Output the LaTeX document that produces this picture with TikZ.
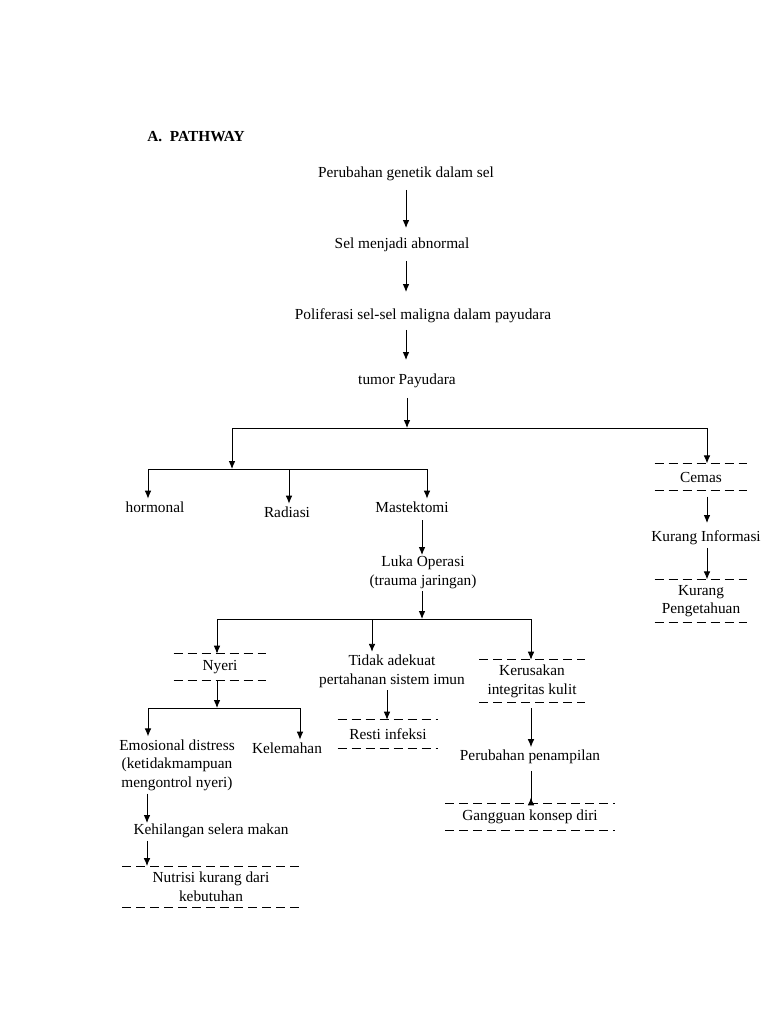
\documentclass[tikz,border=0pt]{standalone}
\usepackage{fontspec}
\setmainfont{Liberation Serif}
\usetikzlibrary{arrows.meta, positioning, calc}

\begin{document}
\begin{tikzpicture}[
    x=0.75pt, y=-0.75pt,
    every node/.style={font=\fontsize{11.5}{14}\selectfont, inner sep=2pt},
    lbl/.style={align=center},
    dbox/.style={
        align=center,
        inner sep=0pt,
        append after command={
            \pgfextra{\let\boxnode=\tikzlastnode}
            (\boxnode.north west) edge[dline] (\boxnode.north east)
            (\boxnode.south west) edge[dline] (\boxnode.south east)
        }
    },
    dline/.style={draw=black, line width=0.7pt, dash pattern=on 7pt off 3.5pt},
    myarrow/.style={
        -{Latex[length=6pt,width=5pt]},
        line width=0.7pt
    },
    bar/.style={line width=0.7pt}
]
\useasboundingbox (0,0) rectangle (768,1024);

% main chain
\node[font=\fontsize{11.5}{14}\selectfont\bfseries] (title) at (196,137) {A.\ \ PATHWAY};
\node (genetik) at (406,174) {Perubahan genetik dalam sel};
\node (abnormal) at (402,245) {Sel menjadi abnormal};
\node (poliferasi) at (423,316) {Poliferasi sel-sel maligna dalam payudara};
\node (tumor) at (407,381) {tumor Payudara};

\draw[myarrow] (genetik.south -| 406,0) ++(0,6) coordinate (a1) -- (406,228) coordinate (a1e);
\draw[myarrow] (abnormal.south -| 406,0) ++(0,6) coordinate (a2) -- (406,292) coordinate (a2e);
\draw[myarrow] (poliferasi.south -| 406,0) ++(0,4) coordinate (a3) -- (406,360) coordinate (a3e);

% first split
\coordinate (jtop) at (407,428);
\coordinate (jleft) at (232,428);
\coordinate (jright) at (707,428);
\coordinate (jmid) at (232,469);
\coordinate (jA) at (148,469);
\coordinate (jB) at (289,469);
\coordinate (jC) at (427,469);
\draw[myarrow] (tumor.south -| jtop) ++(0,7) coordinate (a4) -- (jtop);
\draw[bar] (jleft) -- (jright);
\draw[myarrow] (jleft) -- (jmid);
\draw[bar] (jA) -- (jC);

\node (hormonal) at (155,507) {hormonal};
\node (radiasi) at (287,512) {Radiasi};
\node (mastektomi) at (412,507) {Mastektomi};
\draw[myarrow] (jA) -- (jA |- hormonal.north);
\draw[myarrow] (jB) -- (jB |- radiasi.north);
\draw[myarrow] (jC) -- (jC |- mastektomi.north);

% right branch
\node[dbox, minimum width=69pt, minimum height=20pt] (cemas) at (701,477) {Cemas};
\node (informasi) at (706,538) {Kurang Informasi};
\node[dbox, minimum width=69pt, minimum height=32pt] (pengetahuan) at (701,601) {Kurang\\Pengetahuan};
\draw[myarrow] (jright) -- (jright |- cemas.north);
\draw[myarrow] (cemas.south -| jright) ++(0,6) coordinate (a5) -- (707,523) coordinate (a5e);
\draw[myarrow] (informasi.south -| jright) -- (jright |- pengetahuan.north);

% luka operasi
\node[lbl] (luka) at (423,572) {Luka Operasi\\(trauma jaringan)};
\draw[myarrow] (mastektomi.south -| 422,0) ++(0,5) coordinate (a6) -- (422,555) coordinate (a6e);
\coordinate (jluka) at (422,619);
\coordinate (jL2) at (217,619);
\coordinate (jM2) at (372,619);
\coordinate (jR2) at (531,619);
\draw[myarrow] (luka.south -| jluka) -- (jluka);
\draw[bar] (jL2) -- (jR2);

\node[dbox, minimum width=69pt, minimum height=19.5pt] (nyeri) at (220,667) {Nyeri};
\node[lbl] (imun) at (392,671) {Tidak adekuat\\pertahanan sistem imun};
\node[dbox, minimum width=79pt, minimum height=31.5pt] (kerusakan) at (532,681) {Kerusakan\\integritas kulit};
\draw[myarrow] (jL2) -- (jL2 |- nyeri.north);
\draw[myarrow] (jM2) -- (jM2 |- imun.north);
\draw[myarrow] (jR2) -- (jR2 |- kerusakan.north);

% nyeri branch
\coordinate (jny) at (217,708);
\coordinate (jnyL) at (148,708);
\coordinate (jnyR) at (300,708);
\draw[myarrow] (nyeri.south -| jny) -- (jny);
\draw[bar] (jnyL) -- (jnyR);
\node[lbl] (emosi) at (177,765) {Emosional distress\\(ketidakmampuan\\mengontrol nyeri)};
\node (lemah) at (287,748) {Kelemahan};
\draw[myarrow] (jnyL) -- (jnyL |- emosi.north);
\draw[myarrow] (jnyR) -- (jnyR |- lemah.north);
\node (selera) at (211,831) {Kehilangan selera makan};
\node[dbox, minimum width=133pt, minimum height=31pt] (nutrisi) at (211,887) {Nutrisi kurang dari\\kebutuhan};
\draw[myarrow] (emosi.south -| 147,0) -- (147,823) coordinate (a7e);
\draw[myarrow] (selera.south -| 147,0) -- (147 ,0 |- nutrisi.north);

% imun branch
\node[dbox, minimum width=75pt, minimum height=21pt] (resti) at (388,734) {Resti infeksi};
\draw[myarrow] (imun.south -| 387,0) -- (387,0 |- resti.north);

% kulit branch
\node (penampilan) at (530,757) {Perubahan penampilan};
\node[dbox, minimum width=127pt, minimum height=20pt] (gangguan) at (530,817) {Gangguan konsep diri};
\draw[myarrow] (kerusakan.south -| jR2) ++(0,6) coordinate (a8) -- (jR2 |- penampilan.north);
\draw[myarrow] (penampilan.south -| jR2) ++(0,4) coordinate (a9) -- (jR2 |- gangguan.north) ++(0,-6);
\end{tikzpicture}
\end{document}
